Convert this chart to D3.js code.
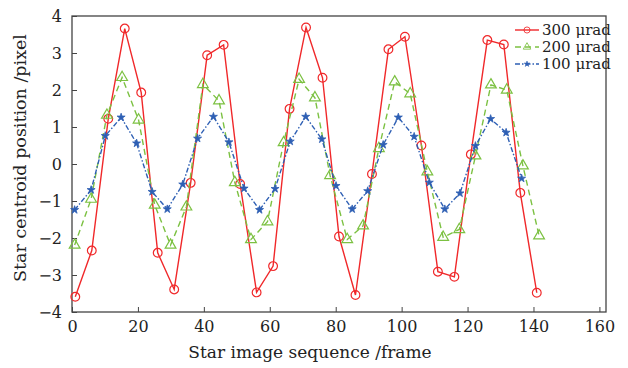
<!DOCTYPE html>
<html>
<head>
<meta charset="utf-8">
<script src="https://cdn.jsdelivr.net/npm/d3@7"></script>
<style>
  body { margin: 0; background: #fff; }
  svg text { font-family: "DejaVu Serif", serif; fill: #222; }
  .axis path, .axis line { stroke: #444; }
</style>
</head>
<body>
<svg id="chart" width="628" height="368"></svg>
<script>
// each series was sampled at its own frame positions
var frames300 = [1, 6, 11, 16, 21, 26, 31, 36, 41, 46, 51, 56, 61, 66, 71,
                 76, 81, 86, 91, 96, 101, 106, 111, 116, 121, 126, 131, 136, 141];
var red300 = [-3.59, -2.34, 1.22, 3.66, 1.93, -2.40, -3.39, -0.51, 2.94, 3.22,
              -0.54, -3.47, -2.76, 1.49, 3.69, 2.33, -1.96, -3.54, -0.27, 3.10,
              3.44, 0.50, -2.91, -3.05, 0.26, 3.35, 3.23, -0.78, -3.48];

var frames200 = [0.8, 5.8, 10.6, 15.2, 20.2, 25.1, 29.9, 34.7, 39.7, 44.6,
                 49.4, 54.3, 59.3, 64.2, 68.9, 73.7, 78.3, 83.5, 88.3, 93.1,
                 97.9, 102.6, 107.8, 112.6, 117.5, 122.4, 127.1, 131.9, 136.8, 141.7];
var green200 = [-2.19, -0.95, 1.32, 2.34, 1.19, -1.11, -2.19, -1.16, 2.15, 1.71,
                -0.50, -2.04, -1.56, 0.58, 2.29, 1.79, -0.31, -2.04, -1.67, 0.42,
                2.22, 1.90, -0.21, -1.98, -1.77, 0.22, 2.14, 2.00, -0.05, -1.94];

var frames100 = [0.8, 5.8, 10.1, 14.9, 19.6, 24.3, 28.9, 33.6, 38.1, 42.9,
                 47.6, 52.2, 56.9, 61.6, 66.2, 70.9, 75.8, 80.1, 85.0, 89.7,
                 94.4, 99.0, 103.8, 108.4, 113.1, 117.7, 122.4, 127.0, 131.7, 136.4];
var blue100 = [-1.24, -0.70, 0.76, 1.26, 0.56, -0.75, -1.22, -0.55, 0.69, 1.28,
               0.59, -0.66, -1.24, -0.67, 0.61, 1.28, 0.67, -0.59, -1.22, -0.73,
               0.52, 1.26, 0.74, -0.50, -1.22, -0.79, 0.49, 1.22, 0.85, -0.39];

var xTicks = [0, 20, 40, 60, 80, 100, 120, 140, 160];
var yTicks = [-4, -3, -2, -1, 0, 1, 2, 3, 4];
var legendLabels = ["300 \u03bcrad", "200 \u03bcrad", "100 \u03bcrad"];

var svg = d3.select("#chart"),
    margin = {top: 16, right: 22, bottom: 56, left: 72},
    width = +svg.attr("width") - margin.left - margin.right,
    height = +svg.attr("height") - margin.top - margin.bottom;

var x = d3.scaleLinear().domain([0, 162]).range([0, width]);
var y = d3.scaleLinear().domain([-4, 4]).range([height, 0]);

var g = svg.append("g")
  .attr("transform", "translate(" + margin.left + "," + margin.top + ")");

// frame box
g.append("rect")
  .attr("width", width).attr("height", height)
  .attr("fill", "none").attr("stroke", "#444").attr("stroke-width", 1.3);

var fmt = function(d) { return d < 0 ? "\u2212" + Math.abs(d) : d; };

g.append("g")
    .attr("class", "axis")
    .attr("transform", "translate(0," + height + ")")
    .call(d3.axisBottom(x).tickValues(xTicks).tickSizeInner(-5).tickSizeOuter(0).tickPadding(9).tickFormat(fmt))
    .call(function(a) { a.select(".domain").remove(); })
    .selectAll("text").style("font-size", "16px");

g.append("g")
    .attr("class", "axis")
    .call(d3.axisLeft(y).tickValues(yTicks).tickSizeInner(-5).tickSizeOuter(0).tickPadding(10).tickFormat(fmt))
    .call(function(a) { a.select(".domain").remove(); })
    .selectAll("text").style("font-size", "16px");

// axis titles
svg.append("text")
  .attr("x", 310).attr("y", 358)
  .attr("text-anchor", "middle").style("font-size", "17px")
  .text("Star image sequence /frame");

svg.append("text")
  .attr("transform", "translate(26,158) rotate(-90)")
  .attr("text-anchor", "middle").style("font-size", "17.5px")
  .text("Star centroid position /pixel");

function pts(fr, vals) {
  return vals.map(function(v, i) { return {f: fr[i], v: v}; });
}

var line = d3.line().x(function(d) { return x(d.f); }).y(function(d) { return y(d.v); });

var series = [
  {data: pts(frames300, red300), color: "#f0282a", dash: null, marker: "circle"},
  {data: pts(frames200, green200), color: "#7cc142", dash: "6,4", marker: "triangle"},
  {data: pts(frames100, blue100), color: "#2e5fb4", dash: "5,2,1.5,2", marker: "star"}
];

var sym = {
  circle: d3.symbol().type(d3.symbolCircle).size(60),
  triangle: d3.symbol().type(d3.symbolTriangle).size(50),
  star: d3.symbol().type(d3.symbolStar).size(20)
};

function drawMarker(sel, s) {
  sel.attr("d", sym[s.marker]())
    .attr("fill", s.marker === "star" ? s.color : "none")
    .attr("stroke", s.color)
    .attr("stroke-width", s.marker === "star" ? 0.8 : 1.2);
}

series.forEach(function(s) {
  g.append("path")
    .datum(s.data)
    .attr("fill", "none")
    .attr("stroke", s.color)
    .attr("stroke-width", 1.4)
    .attr("stroke-dasharray", s.dash)
    .attr("d", line);

  g.selectAll(null)
    .data(s.data)
  .enter().append("path")
    .attr("transform", function(d) { return "translate(" + x(d.f) + "," + y(d.v) + ")"; })
    .call(drawMarker, s);
});

// legend
var lg = g.append("g").attr("transform", "translate(" + (width - 91) + ",14)");
series.forEach(function(s, i) {
  var row = lg.append("g").attr("transform", "translate(0," + (i * 17) + ")");
  row.append("line")
    .attr("x1", 0).attr("x2", 24)
    .attr("stroke", s.color).attr("stroke-width", 1.4)
    .attr("stroke-dasharray", s.dash);
  row.append("path")
    .call(drawMarker, s)
    .attr("transform", "translate(12,0) scale(0.7)");
  row.append("text")
    .attr("x", 27).attr("dy", "0.35em")
    .style("font-size", "15px")
    .text(legendLabels[i]);
});
</script>
</body>
</html>
